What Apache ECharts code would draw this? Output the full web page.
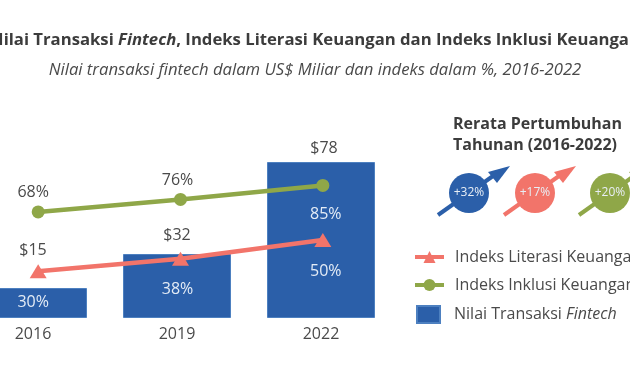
<!DOCTYPE html>
<html>
<head>
<meta charset="utf-8">
<style>
  html, body { margin: 0; padding: 0; background: #fff; width: 630px; height: 380px; overflow: hidden; }
  /* gambar asli terpotong di kiri dan kanan, jadi kanvas dibuat lebih lebar dari jendela */
  #chart { position: absolute; left: -60px; top: 0; width: 750px; height: 380px; }
</style>
<script src="https://cdn.jsdelivr.net/npm/echarts@6/dist/echarts.min.js"></script>
</head>
<body>
<div id="chart"></div>
<script>
const years = ["2016", "2019", "2022"];
const nilaiTransaksi = [15, 32, 78];
const indeksLiterasi = [30, 38, 50];
const indeksInklusi = [68, 76, 85];
const pertumbuhan = ["+32%", "+17%", "+20%"];

const BLUE = "#2b5fa9";
const RED = "#f2746a";
const GREEN = "#8fa748";
const TEXT = "#4a4a4a";
const FONT = '"Open Sans", sans-serif';

const chart = echarts.init(document.getElementById("chart"));

// bulatan + panah pertumbuhan di kanan atas
const growthColors = [BLUE, RED, GREEN];
const growthX = [529, 595, 670];
const growthGraphic = [];
pertumbuhan.forEach((label, i) => {
  const cx = growthX[i];
  const cy = 193;
  growthGraphic.push({
    type: "line",
    z: 5,
    shape: { x1: cx - 31, y1: cy + 22, x2: cx + 24, y2: cy - 17 },
    style: { stroke: growthColors[i], lineWidth: 4 },
  });
  growthGraphic.push({
    type: "polygon",
    z: 5,
    shape: {
      points: [
        [cx + 41, cy - 27],
        [cx + 19, cy - 21],
        [cx + 28, cy - 10],
      ],
    },
    style: { fill: growthColors[i] },
  });
  growthGraphic.push({
    type: "circle",
    z: 6,
    shape: { cx: cx, cy: cy, r: 20 },
    style: { fill: growthColors[i] },
  });
  growthGraphic.push({
    type: "text",
    z: 7,
    x: cx,
    y: cy,
    style: {
      text: label,
      fill: "#e8eef5",
      font: "12px " + FONT,
      align: "center",
      verticalAlign: "middle",
    },
  });
});

const legendRich = {
  i: { fontFamily: FONT, fontSize: 16, color: TEXT, fontStyle: "italic" },
  n: { fontFamily: FONT, fontSize: 16, color: TEXT },
};

// label garis digeser supaya sejajar dengan batang
const labelShift = [-5, -3, 3];

const option = {
  backgroundColor: "#fff",
  animation: false,
  title: [
    {
      text:
        "{b|Nilai Transaksi }{bi|Fintech}{b|, Indeks Literasi Keuangan dan Indeks Inklusi Keuangan}",
      left: "center",
      top: 32,
      padding: 0,
      textStyle: {
        rich: {
          b: { fontFamily: FONT, fontSize: 16.7, fontWeight: "bold", color: "#3c3c3c" },
          bi: { fontFamily: FONT, fontSize: 16.7, fontWeight: "bold", fontStyle: "italic", color: "#3c3c3c" },
        },
      },
    },
    {
      text: "Nilai transaksi fintech dalam US$ Miliar dan indeks dalam %, 2016-2022",
      left: "center",
      top: 62,
      padding: 0,
      textStyle: {
        fontFamily: FONT,
        fontSize: 16.7,
        fontWeight: "normal",
        fontStyle: "italic",
        color: TEXT,
      },
    },
    {
      text: "Rerata Pertumbuhan\nTahunan (2016-2022)",
      left: 513,
      top: 114,
      padding: 0,
      textStyle: {
        fontFamily: FONT,
        fontSize: 16,
        fontWeight: "bold",
        color: "#3c3c3c",
        lineHeight: 21,
      },
    },
  ],
  legend: [
    {
      orient: "vertical",
      left: 473,
      top: 249,
      padding: 0,
      itemWidth: 29,
      itemHeight: 15,
      itemGap: 12,
      lineStyle: { width: 4 },
      data: ["Indeks Literasi Keuangan", "Indeks Inklusi Keuangan"],
      textStyle: { fontFamily: FONT, fontSize: 16, color: TEXT, padding: [0, 0, 0, 6] },
    },
    {
      orient: "vertical",
      left: 476,
      top: 305,
      padding: 0,
      itemWidth: 23,
      itemHeight: 17,
      icon: "rect",
      data: ["Nilai Transaksi Fintech"],
      formatter: () => "{n|Nilai Transaksi }{i|Fintech}",
      textStyle: { rich: legendRich, padding: [0, 0, 0, 9] },
    },
  ],
  grid: [
    { left: 21, width: 432, top: 162, height: 156 },
    { left: 27, width: 427, top: 162, height: 156 },
  ],
  xAxis: [
    {
      type: "category",
      gridIndex: 0,
      data: years,
      axisLine: { show: false },
      axisTick: { show: false },
      axisLabel: { fontFamily: FONT, fontSize: 16, color: TEXT, margin: 8 },
    },
    {
      type: "category",
      gridIndex: 1,
      data: years,
      show: false,
    },
  ],
  yAxis: [
    { type: "value", gridIndex: 0, min: 0, max: 78, show: false },
    { type: "value", gridIndex: 1, min: 0, max: 100, show: false },
  ],
  series: [
    {
      name: "Nilai Transaksi Fintech",
      type: "bar",
      xAxisIndex: 0,
      yAxisIndex: 0,
      barWidth: 108,
      itemStyle: { color: BLUE, borderColor: "#4d80c0", borderWidth: 1 },
      label: {
        show: true,
        position: "top",
        formatter: (p) => "$" + p.value,
        fontFamily: FONT,
        fontSize: 16,
        color: TEXT,
      },
      data: nilaiTransaksi.map((v, i) => ({
        value: v,
        label: { distance: [30, 11, 6][i], offset: [i === 2 ? 3 : 0, 0] },
      })),
    },
    {
      name: "Indeks Literasi Keuangan",
      type: "line",
      xAxisIndex: 1,
      yAxisIndex: 1,
      symbol: "triangle",
      symbolSize: [17, 14],
      z: 4,
      lineStyle: { color: RED, width: 4.5 },
      itemStyle: { color: RED },
      label: {
        show: true,
        position: "bottom",
        distance: 16,
        formatter: "{c}%",
        fontFamily: FONT,
        fontSize: 16,
        color: "#e4ecf6",
      },
      data: indeksLiterasi.map((v, i) => ({
        value: v,
        label: { offset: [labelShift[i], 0] },
      })),
    },
    {
      name: "Indeks Inklusi Keuangan",
      type: "line",
      xAxisIndex: 1,
      yAxisIndex: 1,
      symbol: "circle",
      symbolSize: 13,
      z: 4,
      lineStyle: { color: GREEN, width: 4.5 },
      itemStyle: { color: GREEN },
      label: {
        show: true,
        position: "top",
        distance: 5,
        formatter: "{c}%",
        fontFamily: FONT,
        fontSize: 16,
        color: TEXT,
      },
      data: indeksInklusi.map((v, i) => {
        if (i === 2) {
          return {
            value: v,
            label: { position: "bottom", distance: 15, color: "#e4ecf6", offset: [labelShift[i], 0] },
          };
        }
        return { value: v, label: { offset: [labelShift[i], 0] } };
      }),
    },
  ],
  graphic: growthGraphic,
};

chart.setOption(option);
</script>
</body>
</html>
